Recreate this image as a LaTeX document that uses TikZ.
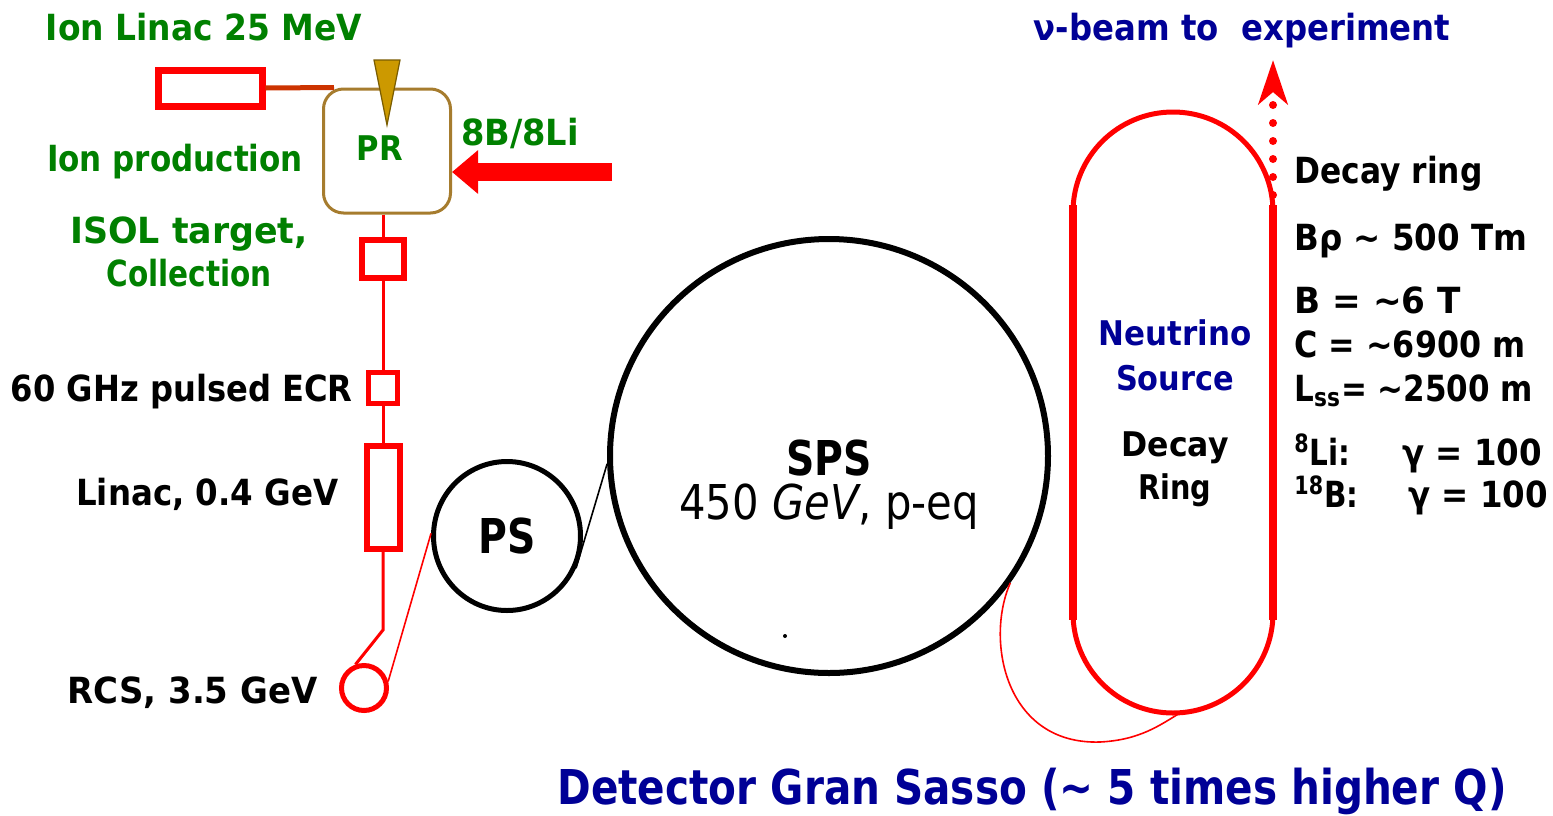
\documentclass[tikz,border=0pt]{standalone}
\usepackage{fontspec}
\usepackage{graphicx}
\setmainfont{DejaVu Sans}[FakeStretch=0.82]
\usetikzlibrary{arrows.meta,shapes.geometric}
\definecolor{grn}{RGB}{0,128,0}
\definecolor{nav}{RGB}{0,0,150}
\definecolor{prbox}{RGB}{166,124,46}
\definecolor{gold}{RGB}{204,153,0}
\definecolor{ionline}{RGB}{204,51,0}
\definecolor{rd}{RGB}{255,0,0}
\newcommand{\sx}[2]{\scalebox{#1}[1]{#2}}
\begin{document}
\begin{tikzpicture}[x=0.5pt,y=-0.5pt,
  lbl/.style={inner sep=0pt, font=\fontsize{18}{21.5}\selectfont\bfseries},
  glbl/.style={lbl, text=grn},
  rlbl/.style={lbl, anchor=base west},
  redbox/.style={draw=rd, fill=white, inner sep=0pt, rectangle},
  beamline/.style={draw=rd, line width=1.5pt},
  thinred/.style={draw=rd, line width=0.8pt},
  ring/.style={draw=black, inner sep=0pt, ellipse},
  big/.style={inner sep=0pt, font=\fontsize{24}{28}\selectfont\bfseries},
]
\useasboundingbox (0,0) rectangle (1553,815);
\fill[white] (0,0) rectangle (1553,815);

% ---- injector chain ----
\node[draw=prbox, line width=1.5pt, rounded corners=10pt, minimum width=63.5pt, minimum height=62pt, inner sep=0pt] (pr) at (387,151) {};
\node[redbox, line width=3.5pt, minimum width=52pt, minimum height=18pt] (ionlinac) at (210,88) {};
\node[redbox, line width=3pt, minimum width=21pt, minimum height=19pt] (isol) at (383,259) {};
\node[redbox, line width=2.5pt, minimum width=14.5pt, minimum height=15.5pt] (ecr) at (383,388) {};
\node[redbox, line width=3pt, minimum width=16.5pt, minimum height=51.5pt] (linac) at (383,497) {};
\node[ellipse, draw=rd, line width=2.5pt, minimum width=22.5pt, minimum height=22.5pt, inner sep=0pt] (rcs) at (364,688) {};
\coordinate (bend) at (383,630);
\coordinate (beamsrc) at (612,172);

\draw[ionline, line width=2.5pt] (ionlinac.east) -- ([xshift=6pt]pr.north west);
\filldraw[fill=gold, draw=gold!60!black, line width=0.6pt] (374,60) -- (400,60) -- (387,125) -- cycle;
\draw[rd, line width=9pt, -{Triangle[length=13pt,width=21pt]}] (beamsrc) -- (pr.east |- beamsrc);

\draw[beamline] (pr.south -| isol) -- (isol.north);
\draw[beamline] (isol.south) -- (ecr.north);
\draw[beamline] (ecr.south) -- (linac.north);
\draw[beamline] (linac.south) -- (bend) -- (rcs.110);

% labels left
\node[glbl, anchor=base] (tIonLinac) at (204,40) {\sx{1.115}{Ion Linac 25 MeV}};
\node[glbl, anchor=base] (tIonProd) at (175,171) {\sx{1.05}{Ion production}};
\node[glbl, anchor=base, align=center] (tIsol) at (189,286) {\sx{1.18}{ISOL target,}\\\sx{1.0}{Collection}};
\node[glbl, anchor=base, font=\fontsize{17}{20}\selectfont\bfseries] (tPR) at (380,160) {\sx{1.1}{PR}};
\node[glbl, anchor=base] (tBLi) at (520,145) {\sx{1.14}{8B/8Li}};
\node[lbl, anchor=base east] (tEcr) at (353,401) {\sx{1.09}{60 GHz pulsed ECR}};
\node[lbl, anchor=base east] (tLinac) at (339,505) {\sx{1.1}{Linac, 0.4 GeV}};
\node[lbl, anchor=base east] (tRcs) at (318,703) {\sx{1.15}{RCS, 3.5 GeV}};

% ---- PS and SPS ----
\node[ring, line width=2.5pt, minimum width=73.5pt, minimum height=74.5pt, big] (ps) at (507,536) {PS};
\node[ring, line width=3pt, minimum width=219pt, minimum height=217pt] (sps) at (829,456) {};
\node[big, anchor=base] (tSps) at (829,475) {SPS};
\node[inner sep=0pt, font=\fontsize{24}{28}\selectfont, anchor=base] (tSpsE) at (829,519) {\sx{1.06}{450 \textit{GeV}, p-eq}};
\fill (785,636) circle (1pt);

\draw[thinred] (rcs.15) -- (ps.178);
\draw[line width=0.8pt] (ps.-25) -- (sps.182);

% ---- decay ring ----
\coordinate (drbottom) at (1180,713);
\draw[rd, line width=2.5pt] (1073,212) arc[start angle=180, end angle=360, radius=100];
\draw[rd, line width=2.5pt] (1073,613) arc[start angle=180, end angle=0, radius=100];
\draw[rd, line width=4pt] (1073,205) -- (1073,620);
\draw[rd, line width=4pt] (1273,205) -- (1273,620);
\draw[thinred] (sps.-35) .. controls (985,640) and (1005,745) .. (1100,742) .. controls (1140,740) and (1160,725) .. (drbottom);

\coordinate (nuStart) at (1273,195);
\coordinate (nuEnd) at (1273,60);
\draw[rd, line width=4pt, line cap=round, dash pattern=on 0pt off 9pt, -{Stealth[length=22pt, width=14.5pt, inset=6pt]}] (nuStart) -- (nuEnd);

\node[lbl, anchor=base, text=nav] (tNu) at (1242,40) {\sx{1.095}{ν-beam to\ \ experiment}};

\node[inner sep=0pt, anchor=base, align=center, text=nav, font=\fontsize{17}{22.5}\selectfont\bfseries] (tNeu) at (1175,390) {\sx{1.11}{Neutrino}\\\sx{1.09}{Source}};
\node[inner sep=0pt, anchor=base, align=center, font=\fontsize{17}{21.5}\selectfont\bfseries] (tDR) at (1175,499) {\sx{1.13}{Decay}\\\sx{1.03}{Ring}};

\node[rlbl] (r1) at (1294,183) {\sx{1.06}{Decay ring}};
\node[rlbl] (r2) at (1294,250) {\sx{1.1}{Bρ \textasciitilde{} 500 Tm}};
\node[rlbl] (r3) at (1294,313) {\sx{1.16}{B = \textasciitilde6 T}};
\node[rlbl] (r4) at (1294,357) {\sx{1.075}{C = \textasciitilde6900 m}};
\node[rlbl] (r5) at (1294,401) {\sx{1.05}{L\textsubscript{ss}= \textasciitilde2500 m}};
\node[rlbl] (r6) at (1294,465) {\makebox[54pt][l]{\textsuperscript{8}Li:}\sx{1.1}{γ = 100}};
\node[rlbl] (r7) at (1294,507) {\makebox[57pt][l]{\textsuperscript{18}B:}\sx{1.1}{γ = 100}};

\node[inner sep=0pt, anchor=base, text=nav, font=\fontsize{24}{28}\selectfont\bfseries] (tDet) at (1032,804) {\sx{1.03}{Detector Gran Sasso (\textasciitilde{} 5 times higher Q)}};
\end{tikzpicture}
\end{document}
